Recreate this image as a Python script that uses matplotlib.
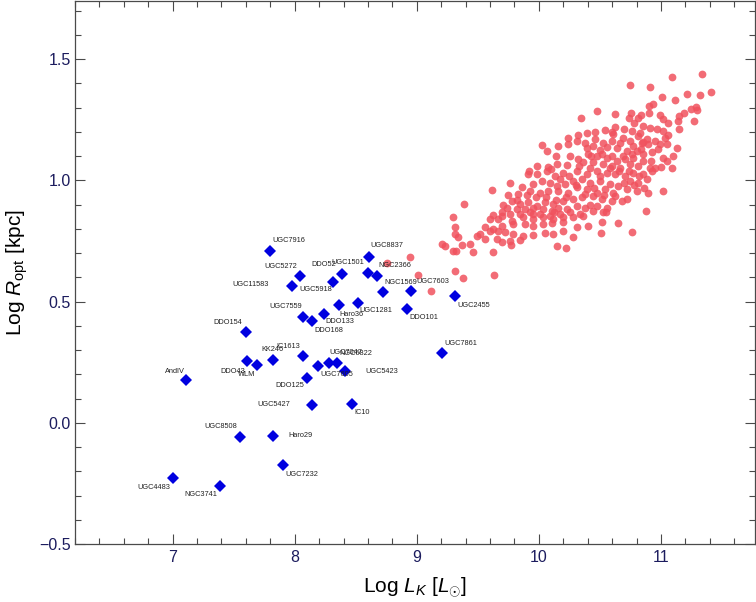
import numpy as np
import matplotlib
matplotlib.use("Agg")
import matplotlib.pyplot as plt
from matplotlib.ticker import MultipleLocator, FuncFormatter

plt.rcParams['font.family'] = ['Liberation Sans', 'DejaVu Sans']
plt.rcParams['mathtext.fontset'] = 'custom'
plt.rcParams['mathtext.rm'] = 'Liberation Sans'
plt.rcParams['mathtext.it'] = 'Liberation Sans:italic'

# dwarf galaxies: name, log L_K, log R_opt
dwarf_names = ['UGC7916', 'UGC5272', 'UGC11583', 'UGC5918', 'DDO52', 'UGC1501',
               'NGC2366', 'UGC8837', 'NGC1569', 'UGC7603', 'UGC2455', 'DDO101',
               'UGC1281', 'Haro36', 'DDO133', 'UGC7559', 'DDO168', 'DDO154',
               'DDO43', 'WLM', 'KK246', 'IC1613', 'UGC7605', 'UGC7047',
               'NGC6822', 'UGC5423', 'DDO125', 'UGC5427', 'IC10', 'UGC7861',
               'AndIV', 'UGC8508', 'Haro29', 'UGC7232', 'UGC4483', 'NGC3741']
dwarf_logL = [7.80, 8.04, 7.98, 8.31, 8.39, 8.60, 8.67, 8.61, 8.72, 8.95, 9.31, 8.92,
              8.52, 8.36, 8.24, 8.07, 8.14, 7.60, 7.61, 7.69, 7.82, 8.07, 8.19, 8.28,
              8.35, 8.41, 8.10, 8.14, 8.47, 9.21, 7.11, 7.55, 7.82, 7.90, 7.00, 7.39]
dwarf_logR = [0.710, 0.604, 0.566, 0.582, 0.614, 0.618, 0.604, 0.686, 0.538, 0.542,
              0.523, 0.471, 0.495, 0.485, 0.449, 0.438, 0.419, 0.374, 0.253, 0.240,
              0.260, 0.275, 0.233, 0.248, 0.246, 0.213, 0.186, 0.072, 0.079, 0.287,
              0.175, -0.058, -0.056, -0.176, -0.228, -0.260]

# label offsets in pixels (layout only)
label_offsets = [(18, 10), (-19, 10), (-42, 1), (-17, -8), (-19, 9), (-20, 10),
                 (18, 11), (18, 11), (18, 10), (22, 10), (19, -9), (17, -9),
                 (18, -8), (13, -9), (16, -8), (-18, 10), (17, -9), (-18, 10),
                 (-14, -10), (-10, -10), (0, 10), (-15, 10), (19, -8), (17, 10),
                 (18, 10), (37, 0), (-17, -8), (-38, 1), (10, -9), (18, 10),
                 (-11, 9), (-19, 10), (28, 1), (19, -9), (-19, -9), (-19, -9)]

# spiral sample (log L_K, log R_opt)
spirals = [
    (11.332, 1.440), (11.087, 1.426), (10.748, 1.393), (10.907, 1.386), (11.409, 1.364),
    (11.212, 1.356), (11.321, 1.351), (11.005, 1.344), (11.117, 1.330),
    (10.898, 1.307), (10.937, 1.314), (11.283, 1.304), (11.248, 1.296), (11.299, 1.289),
    (10.478, 1.288), (10.754, 1.279), (11.190, 1.279), (10.623, 1.273), (10.836, 1.270),
    (10.901, 1.279), (11.149, 1.266), (10.991, 1.270), (10.342, 1.256), (10.737, 1.256),
    (10.808, 1.259), (11.018, 1.252), (11.272, 1.245), (11.054, 1.238), (11.141, 1.245),
    (10.623, 1.222), (10.541, 1.208), (10.459, 1.201), (10.778, 1.238), (10.855, 1.225),
    (10.909, 1.218), (10.964, 1.211), (11.018, 1.204), (11.147, 1.214), (10.759, 1.204),
    (10.828, 1.197), (10.241, 1.174), (10.323, 1.187), (10.391, 1.197), (10.604, 1.190),
    (10.686, 1.176), (10.746, 1.163), (10.814, 1.183), (10.882, 1.170), (10.950, 1.163),
    (11.032, 1.176), (11.054, 1.187), (10.991, 1.149), (11.128, 1.135), (10.023, 1.146),
    (10.064, 1.122), (10.159, 1.142), (10.241, 1.149), (10.309, 1.163), (10.377, 1.156),
    (10.459, 1.170), (10.527, 1.156), (10.596, 1.163), (10.664, 1.156), (10.896, 1.149),
    (10.841, 1.156), (10.773, 1.142), (11.046, 1.149),
    (10.140, 1.101), (10.255, 1.101), (10.323, 1.087), (10.391, 1.133), (10.446, 1.142),
    (10.500, 1.124), (10.555, 1.138), (10.637, 1.133), (10.718, 1.122), (10.800, 1.122),
    (10.855, 1.108), (10.923, 1.119), (10.978, 1.128), (11.018, 1.094), (11.095, 1.101),
    (11.051, 1.080), (11.087, 1.053), (10.909, 1.053), (10.997, 1.056), (10.855, 1.080),
    (10.773, 1.094), (10.705, 1.087), (10.637, 1.080), (10.555, 1.094), (10.473, 1.101),
    (10.405, 1.108), (10.227, 1.064), (10.146, 1.067), (10.077, 1.056), (9.922, 1.039),
    (9.982, 1.060), (10.364, 1.074), (10.446, 1.074), (10.527, 1.067), (10.596, 1.060),
    (10.664, 1.053), (10.746, 1.067), (10.814, 1.060),
    (9.914, 1.026), (9.982, 1.026), (10.064, 1.039), (10.132, 1.019), (10.200, 1.032),
    (10.309, 1.039), (10.391, 1.026), (10.473, 1.039), (10.555, 1.032), (10.623, 1.026),
    (10.705, 1.019), (10.773, 1.032), (10.855, 1.026), (10.923, 1.039), (10.746, 0.998),
    (10.814, 0.991), (10.882, 1.005), (9.764, 0.991), (9.859, 0.971), (9.955, 0.984),
    (10.023, 0.998), (10.091, 0.991), (10.146, 0.978), (10.214, 0.984), (10.282, 0.998),
    (10.350, 1.005), (10.418, 0.991), (10.500, 0.998), (10.582, 0.984), (10.650, 0.978),
    (10.718, 0.964), (10.800, 0.957), (10.896, 0.950), (11.018, 0.957), (9.619, 0.960),
    (9.750, 0.939), (9.832, 0.943), (9.927, 0.957), (10.009, 0.950), (10.077, 0.957),
    (10.159, 0.957), (10.241, 0.950), (10.309, 0.971), (10.391, 0.964), (10.473, 0.950),
    (10.541, 0.964), (10.609, 0.950),
    (9.390, 0.902), (9.709, 0.899), (9.777, 0.916), (9.846, 0.902), (9.914, 0.909),
    (9.982, 0.895), (10.050, 0.909), (10.118, 0.902), (10.200, 0.916), (10.282, 0.923),
    (10.350, 0.930), (10.446, 0.936), (10.514, 0.923), (10.596, 0.916), (10.677, 0.916),
    (10.718, 0.923), (9.736, 0.888), (9.818, 0.882), (9.886, 0.882), (9.955, 0.888),
    (10.036, 0.882), (10.105, 0.875), (10.159, 0.888), (10.227, 0.882), (10.309, 0.895),
    (10.377, 0.888), (10.473, 0.895), (10.555, 0.888), (10.874, 0.875), (9.627, 0.858),
    (9.695, 0.854), (9.764, 0.861), (9.846, 0.861), (9.927, 0.868), (10.009, 0.861),
    (10.091, 0.854), (10.173, 0.861), (10.255, 0.868), (10.337, 0.861), (10.446, 0.875),
    (10.527, 0.868), (9.300, 0.850), (9.600, 0.840), (9.668, 0.840), (9.777, 0.834),
    (9.873, 0.847), (9.955, 0.840), (10.036, 0.847), (10.118, 0.840), (10.200, 0.847),
    (10.282, 0.847), (10.364, 0.854), (10.514, 0.827), (10.645, 0.823),
    (9.314, 0.806), (9.559, 0.806), (9.627, 0.799), (9.695, 0.813), (9.791, 0.820),
    (9.886, 0.820), (9.955, 0.813), (10.036, 0.820), (10.105, 0.823), (10.200, 0.827),
    (10.309, 0.806), (10.405, 0.813), (10.759, 0.788), (10.506, 0.781), (10.200, 0.790),
    (10.282, 0.768), (10.118, 0.779), (10.050, 0.781), (9.955, 0.776), (9.873, 0.772),
    (9.791, 0.779), (9.723, 0.786), (9.668, 0.792), (9.600, 0.792), (9.518, 0.779),
    (9.436, 0.738), (9.491, 0.772), (9.559, 0.758), (9.655, 0.758), (9.695, 0.744),
    (9.764, 0.751), (9.846, 0.754), (9.314, 0.779), (9.341, 0.765), (9.210, 0.738),
    (9.232, 0.731), (9.374, 0.735), (9.294, 0.707), (9.322, 0.710), (9.464, 0.703),
    (9.627, 0.703), (9.772, 0.733), (10.146, 0.728), (10.222, 0.720),
    (9.314, 0.628), (9.382, 0.596), (9.635, 0.609), (9.114, 0.545),
    (8.757, 0.660), (8.945, 0.685), (9.013, 0.610),
    # denser core
    (10.10, 1.045), (10.17, 1.005), (10.25, 1.020), (10.33, 1.060), (10.42, 1.050),
    (10.50, 1.020), (10.58, 1.050), (10.66, 1.040), (10.74, 1.040), (10.82, 1.020),
    (10.30, 0.980), (10.38, 0.945), (10.45, 0.970), (10.53, 0.940), (10.62, 0.935),
    (10.70, 0.990), (10.78, 0.980), (10.86, 0.970), (10.22, 0.930), (10.14, 0.920),
    (10.06, 0.930), (9.98, 0.930), (9.90, 0.940), (9.82, 0.920), (10.43, 1.100),
    (10.52, 1.110), (10.60, 1.100), (10.69, 1.100), (10.76, 1.110), (10.84, 1.130),
    (10.92, 1.080), (10.95, 1.050), (10.60, 1.200), (10.70, 1.210), (10.85, 1.160),
    (10.55, 0.870), (10.42, 0.900), (10.12, 0.870), (9.95, 0.860), (9.70, 0.870),
]
spiral_logL = np.array([p[0] for p in spirals])
spiral_logR = np.array([p[1] for p in spirals])

fig = plt.figure(figsize=(7.56, 6.02), dpi=100)
ax = fig.add_axes([75 / 756, 58 / 602, 680 / 756, 543 / 602])

ax.plot(spiral_logL, spiral_logR, 'o', ms=5.6, mew=0, color=(0.94, 0.32, 0.37),
        alpha=0.85, zorder=2)
ax.plot(dwarf_logL, dwarf_logR, 'D', ms=6.2, mew=0, color='#0000e0', zorder=3)

for name, lx, ly, off in zip(dwarf_names, dwarf_logL, dwarf_logR, label_offsets):
    ax.annotate(name, (lx, ly), xytext=off, textcoords='offset pixels',
                ha='center', va='center', fontsize=5.3, color='#222222', zorder=4)

ax.set_xlim(6.2, 11.77)
ax.set_ylim(-0.5, 1.74)
ax.xaxis.set_major_locator(MultipleLocator(1))
ax.xaxis.set_minor_locator(MultipleLocator(0.2))
ax.yaxis.set_major_locator(MultipleLocator(0.5))
ax.yaxis.set_minor_locator(MultipleLocator(0.1))
ax.yaxis.set_major_formatter(FuncFormatter(lambda v, pos: f'{v:.1f}'.replace('-', '\u2212')))

spine_col = '#4a4a4a'
for s in ax.spines.values():
    s.set_color(spine_col)
    s.set_linewidth(0.9)
ax.tick_params(which='both', direction='in', top=True, right=True, color=spine_col,
               width=0.8, labelcolor='#1c1c5e', labelsize=11.5)
ax.tick_params(which='major', length=7)
ax.tick_params(which='minor', length=4)
ax.tick_params(axis='x', pad=4)
ax.tick_params(axis='y', pad=3)

ax.set_xlabel('Log $L_K$ [$L_{\\odot}$]', fontsize=15)
ax.set_ylabel('Log $R_{\\rm opt}$ [kpc]', fontsize=15)
ax.xaxis.set_label_coords(0.5, -0.058)
ax.yaxis.set_label_coords(-0.066, 0.5)

fig.savefig('out.png', dpi=100)
